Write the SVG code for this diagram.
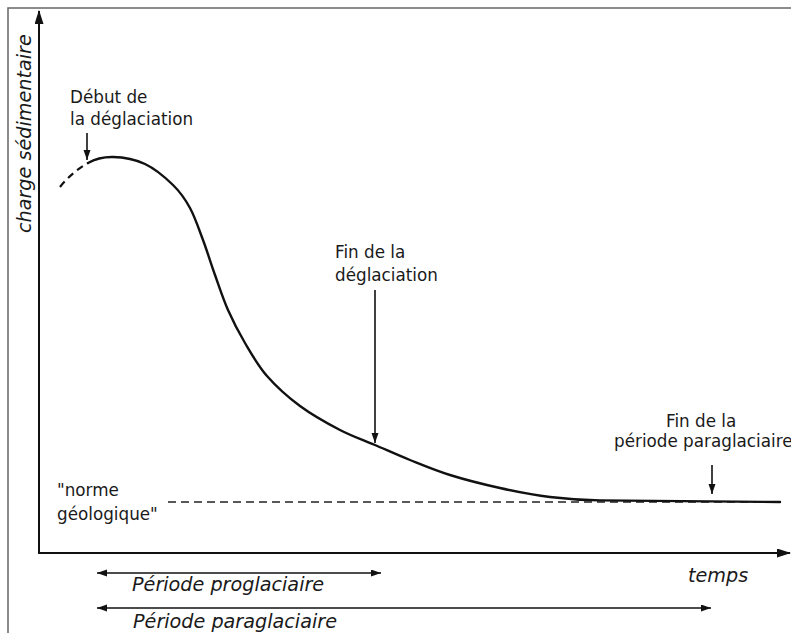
<svg xmlns="http://www.w3.org/2000/svg" width="791" height="633" viewBox="0 0 791 633">
<style>
.t{font-family:"DejaVu Sans","Liberation Sans",sans-serif;font-size:16.8px;fill:#1a1a1a}
.i{font-family:"DejaVu Sans","Liberation Sans",sans-serif;font-size:19.2px;font-style:italic;fill:#1a1a1a}
.ln{fill:none;stroke:#111;stroke-width:1.6}
.ax{fill:none;stroke:#111;stroke-width:2}
.cv{fill:none;stroke:#111;stroke-width:2.4;stroke-linecap:round}
</style>
<defs>
<marker id="ah" markerUnits="userSpaceOnUse" markerWidth="10" markerHeight="8" refX="10" refY="3.5" orient="auto-start-reverse">
<path d="M0,0 L10,3.5 L0,7 z" fill="#111"/>
</marker>
<marker id="axh" markerUnits="userSpaceOnUse" markerWidth="14" markerHeight="10" refX="13" refY="4.5" orient="auto">
<path d="M0,0 L14,4.5 L0,9 z" fill="#111"/>
</marker>
</defs>
<rect width="791" height="633" fill="#fff"/>
<g id="frame">
<path d="M8,633 V8 H791" fill="none" stroke="#666" stroke-width="1.5"/>
</g>
<g id="axes">
<line class="ax" x1="39" y1="554" x2="39" y2="11" marker-end="url(#axh)"/>
<line class="ax" x1="38" y1="553" x2="790" y2="553" marker-end="url(#axh)"/>
<text class="i" transform="translate(31,233) rotate(-90)" font-size="19.5">charge sédimentaire</text>
<text class="i" x="688" y="582">temps</text>
</g>
<g id="norme">
<line x1="168" y1="502" x2="780" y2="502" fill="none" stroke="#222" stroke-width="1.6" stroke-dasharray="8,5"/>
<text class="t" x="57" y="496">"norme</text>
<text class="t" x="57" y="520">géologique"</text>
</g>
<g id="curve">
<path d="M60,187 Q72,172 88,163" fill="none" stroke="#111" stroke-width="2.2" stroke-dasharray="7,5"/>
<path class="cv" d="M88,163 C95,159 103.5,156.8 113,157 C122.5,157.2 135,159.3 145,164 C155,168.7 165.5,177.7 173,185 C180.5,192.3 185,198.8 190,208 C195,217.2 198.8,228.8 203,240 C207.2,251.2 210.8,263.3 215,275 C219.2,286.7 223,298.7 228,310 C233,321.3 238.5,332 245,343 C251.5,354 257.8,365.5 267,376 C276.2,386.5 287.8,397 300,406 C312.2,415 327.5,423.5 340,430 C352.5,436.5 363.3,440 375,445 C386.7,450 397.5,455 410,460 C422.5,465 435,470.3 450,475 C465,479.7 483.3,484.3 500,488 C516.7,491.7 533.3,495 550,497 C566.7,499 585,500.2 600,500.4 L780,502"/>
</g>
<g id="connectors">
<line class="ln" x1="87" y1="133" x2="87" y2="160" marker-end="url(#ah)"/>
<line class="ln" x1="375" y1="290" x2="375" y2="443" marker-end="url(#ah)"/>
<line class="ln" x1="712" y1="465" x2="712" y2="494" marker-end="url(#ah)"/>
<line class="ln" x1="97" y1="573" x2="381" y2="573" marker-start="url(#ah)" marker-end="url(#ah)"/>
<line class="ln" x1="97" y1="608" x2="711" y2="608" marker-start="url(#ah)" marker-end="url(#ah)"/>
</g>
<g id="debut">
<text class="t" x="70" y="103">Début de</text>
<text class="t" x="70" y="125">la déglaciation</text>
</g>
<g id="fin-deglaciation">
<text class="t" x="335" y="258">Fin de la</text>
<text class="t" x="335" y="281">déglaciation</text>
</g>
<g id="fin-paraglaciaire">
<text class="t" x="666" y="427">Fin de la</text>
<text class="t" x="614" y="447" font-size="16.3">période paraglaciaire</text>
</g>
<g id="periodes">
<text class="i" x="132" y="591">Période proglaciaire</text>
<text class="i" x="133" y="627.5">Période paraglaciaire</text>
</g>
</svg>
